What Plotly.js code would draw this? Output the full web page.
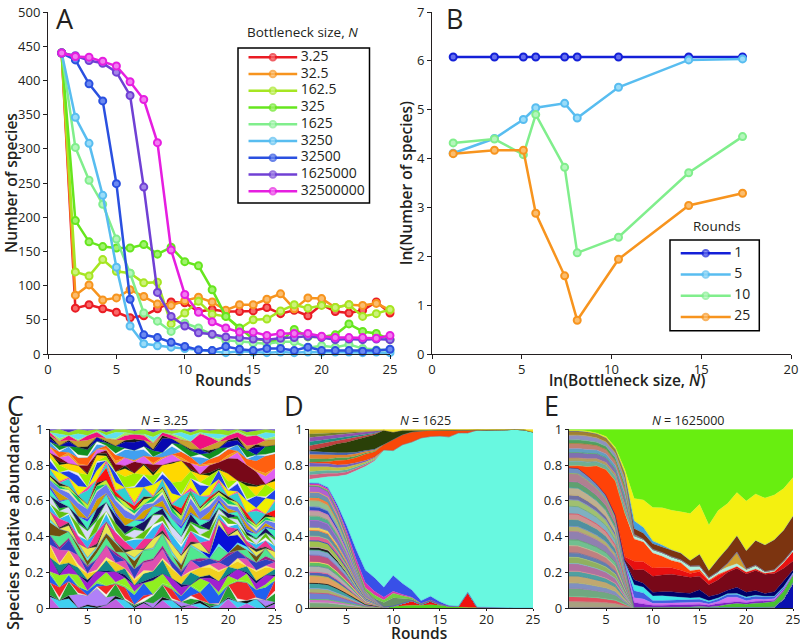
<!DOCTYPE html>
<html><head><meta charset="utf-8">
<script src="https://cdn.plot.ly/plotly-3.0.1.min.js"></script>
<style>html,body{margin:0;padding:0;background:#fff}</style></head>
<body><div id="chart" style="width:800px;height:643px"></div>
<script>
var rounds=[1,2,3,4,5,6,7,8,9,10,11,12,13,14,15,16,17,18,19,20,21,22,23,24,25];

// Panel A
var namesA=['3.25','32.5','162.5','325','1625','3250','32500','1625000','32500000'];
var colorsA=['#ea1c24','#f7941e','#a6e622','#66e61e','#80ee8c','#58bdf0','#2a50e0','#7040d4','#e61ee0'];
var fillsA=['#f86a6a','#fbbd6e','#ccf27a','#a0f26e','#b4f6bc','#9adcf8','#6c8af0','#a286e8','#f27cf0'];
var s3_25=[440,67,72,66,61,53,56,66,76,75,62,65,62,62,63,68,59,64,56,72,62,60,64,76,60];
var s32_5=[440,86,101,79,82,94,84,73,71,78,83,76,64,72,72,80,88,66,82,81,68,72,71,74,64];
var s162_5=[440,120,114,138,121,118,104,105,44,60,77,58,55,37,50,51,63,72,67,71,68,72,55,59,65];
var s325=[440,195,164,157,155,155,160,146,156,135,129,94,55,38,22,20,18,36,25,25,28,44,33,30,21];
var s1625=[440,302,254,219,168,118,60,48,33,45,38,28,20,18,16,15,18,18,9,12,10,14,8,6,5];
var s3250=[440,346,308,232,127,41,15,12,10,8,6,5,2,4,3,2,3,2,3,3,3,3,2,3,2];
var s32500=[440,430,395,370,249,80,28,24,17,11,6,5,11,7,5,8,8,5,10,5,5,5,4,5,7];
var s1625000=[440,436,429,425,412,378,244,90,55,41,31,29,25,24,22,21,23,24,26,24,21,22,21,22,21];
var s32500000=[440,435,434,428,421,398,372,309,152,87,61,47,38,32,32,27,30,30,30,26,24,24,24,23,27];
var seriesA=[s3_25,s32_5,s162_5,s325,s1625,s3250,s32500,s1625000,s32500000];

// Panel B
var lnN=[1.18,3.48,5.09,5.78,7.39,8.09,10.39,14.3,17.3];
var namesB=['1','5','10','25'];
var colorsB=['#1420d8','#58bdf0','#80ee8c','#f7941e'];
var fillsB=['#6670ee','#9adcf8','#b4f6bc','#fbbd6e'];
var round1=[6.08,6.08,6.08,6.08,6.08,6.08,6.08,6.08,6.08];
var round5=[4.11,4.41,4.80,5.04,5.13,4.83,5.46,6.02,6.04];
var round10=[4.32,4.40,4.08,4.90,3.82,2.07,2.39,3.71,4.45];
var round25=[4.10,4.17,4.17,2.88,1.60,0.69,1.94,3.04,3.29];
var seriesB=[round1,round5,round10,round25];

// Panel C: species relative abundance, bottom to top (normalised per round)
var layersC=[
[7,0,0,0,0,0,2,6,0,0,3,0,5,0,0,2,0,0,0,6,0,3,0,0,3],
[0,5,6,0,1,0,0,0,5,0,0,0,0,5,0,0,3,0,2,0,4,0,6,0,0],
[0,0,0,9,6,12,5,0,0,0,0,3,0,0,3,0,0,0,0,0,0,0,0,4,0],
[8,0,9,0,0,0,0,8,0,1,0,5,8,0,0,4,0,2,0,8,0,0,0,0,6],
[0,7,0,4,0,0,6,0,7,0,2,0,0,6,0,0,5,0,0,0,11,12,0,0,7],
[5,0,4,0,3,2,0,0,0,6,8,0,0,0,4,6,0,14,5,0,0,0,5,8,0],
[0,8,0,7,0,0,9,0,5,0,0,9,6,0,0,0,8,0,0,6,0,5,0,0,3],
[9,0,6,0,5,6,0,7,0,4,0,0,0,5,6,0,0,3,7,0,7,0,4,6,0],
[0,6,0,5,0,0,7,0,4,0,5,4,9,0,0,8,0,0,0,5,0,4,0,0,4],
[7,0,8,0,4,0,0,6,0,3,0,0,0,6,5,0,6,5,6,0,5,0,6,5,0],
[0,9,0,6,0,7,8,0,5,0,5,7,6,0,0,7,0,0,5,0,0,5,0,0,5],
[6,0,7,0,4,0,0,5,0,6,0,0,0,4,3,0,4,4,0,7,5,0,5,4,0],
[0,7,4,4,0,4,5,0,4,0,7,6,8,4,0,9,4,0,9,0,0,5,0,5,0],
[8,5,0,3,3,3,3,6,0,5,0,0,0,0,4,0,0,0,0,0,4,0,4,0,0],
[0,0,0,0,0,0,0,0,0,0,0,0,0,0,0,0,0,3,12,11,5,1,0,0,0],
[5,0,4,0,6,0,7,0,0,5,0,6,0,5,6,0,5,0,4,0,3,0,3,0,5],
[0,6,0,5,0,8,0,6,5,0,6,0,5,0,0,7,0,8,0,5,0,3,0,4,0],
[4,0,5,0,5,0,5,0,0,6,0,7,0,6,5,0,4,0,3,0,3,0,3,0,4],
[0,5,0,6,0,7,0,5,4,0,5,0,4,0,0,5,0,6,0,4,0,3,0,3,0],
[5,0,4,0,6,0,6,0,0,5,0,6,0,5,5,0,4,0,3,0,3,0,3,0,4],
[0,4,0,4,0,6,0,5,5,0,6,0,4,0,0,5,0,6,0,3,0,2,0,3,0],
[4,0,5,0,5,0,5,0,0,4,0,5,0,4,5,0,4,0,3,0,3,0,3,0,5],
[0,5,0,5,0,6,0,4,5,0,5,0,4,0,0,5,0,5,0,3,0,3,0,2,0],
[4,3,4,4,6,5,6,4,5,3,4,2,4,4,4,4,5,4,3,2,3,2,2,2,4],
[0,2,0,3,0,3,0,2,0,2,0,3,0,3,0,3,0,2,0,3,0,2,0,2,0],
[2,0,2,0,3,0,3,0,3,0,3,0,2,0,3,0,2,0,2,0,2,0,2,0,3],
[0,0,0,0,0,2,8,3,0,3,0,0,0,0,4,0,0,2,0,0,0,3,0,0,5],
[4,0,5,0,9,0,3,0,8,0,6,0,5,0,8,0,7,0,5,0,6,0,9,0,6],
[0,6,0,6,0,6,0,5,0,9,0,7,0,6,0,6,0,6,0,4,0,8,0,10,0],
[5,0,4,7,0,5,0,6,0,0,7,0,3,7,0,0,7,0,6,0,5,0,8,0,7],
[0,5,0,0,8,0,3,0,7,8,0,6,0,0,9,5,0,7,0,5,0,9,0,8,0],
[3,0,4,5,0,4,0,0,5,0,6,0,4,12,14,0,5,0,0,5,0,0,6,0,6],
[0,3,0,0,5,0,2,5,0,7,0,5,0,0,0,4,0,5,4,10,14,12,9,0,0],
[3,0,5,0,0,3,0,0,5,0,5,0,4,5,0,0,5,0,0,0,4,0,0,5,7],
[0,4,0,4,5,0,2,4,0,0,0,4,0,0,4,4,0,3,4,4,0,4,6,11,10],
[3,0,4,0,0,3,0,0,5,6,4,0,3,5,0,0,5,0,0,0,4,0,4,0,0],
[0,3,0,5,4,0,2,5,0,0,0,4,0,0,4,4,0,4,4,0,0,5,0,5,5],
[2,0,3,0,0,3,0,0,4,5,4,0,9,3,0,0,3,0,0,4,3,0,5,0,0],
[0,3,0,4,4,0,2,4,0,0,0,4,0,0,3,5,0,3,4,0,0,3,0,4,4],
[2,0,3,0,3,3,0,0,3,3,3,0,2,2,0,0,10,6,0,3,3,6,6,0,0],
[0,3,0,4,0,0,2,4,0,0,0,3,0,0,3,4,0,2,3,0,0,0,0,4,2],
[1,3,2,3,3,1,2,2,2,2,3,3,2,2,2,2,2,2,3,3,1,2,3,2,2]];
var colorsC=['#c060e0','#40d0f0','#b080f8','#28a030','#f02828','#2060f0','#90f020','#a020d0','#108888','#f0d020','#e050b0','#3040c0','#50e890','#705010',
'#0810d8','#e8e850','#f03090','#30b8f0','#60c010','#d8d8f8','#181060','#40f0c0','#d0a000','#6878f0','#10c860','#c8f030',
'#ff1010','#30d0d0','#f0f000','#2040e8','#a0f000','#ffd800','#780818','#e060f0','#ff6010','#40a0f0','#109020','#0808b0','#c8a030','#f01080','#60e0f0','#90e020'];
// thin wedges between the large wedges of panel C
var thinC=[
[1,0,2,0,1,1,0,2,0,1,1,0,2,0,1,0,2,1,0,1,0,2,0,1,1],
[0,2,0,1,0,1,2,0,1,0,2,1,0,1,0,2,0,0,1,0,2,0,1,0,2],
[2,0,1,1,0,2,0,1,1,2,0,0,1,2,0,1,1,0,2,0,1,1,0,2,0],
[0,1,1,0,2,0,1,0,2,0,1,2,0,0,2,0,1,2,0,1,0,1,2,0,1],
[1,1,0,2,0,1,2,0,0,1,2,0,1,1,0,1,0,2,1,0,2,0,1,1,0],
[0,2,1,0,1,0,0,2,1,0,1,1,2,0,1,0,2,0,1,2,0,1,0,2,1],
[2,0,0,1,2,1,0,1,0,2,0,1,0,2,0,1,1,0,2,0,1,2,0,0,1],
[0,1,2,0,0,2,1,0,2,0,1,0,2,0,1,2,0,1,0,1,1,0,2,1,0],
[1,0,1,2,0,0,2,1,0,1,0,2,1,0,2,0,1,1,0,2,0,1,0,2,0],
[0,2,0,1,1,2,0,0,1,2,0,1,0,1,0,1,2,0,1,0,2,0,1,0,2],
[2,1,0,0,2,0,1,2,0,0,2,0,1,0,2,1,0,1,2,0,0,2,0,1,1],
[0,0,2,1,0,1,0,1,2,1,0,1,2,0,0,2,0,2,0,1,1,0,2,0,1],
[1,2,0,1,0,2,0,0,1,0,2,0,1,2,1,0,1,0,1,2,0,1,0,2,0],
[0,1,1,0,2,0,2,1,0,2,0,1,0,1,0,2,0,1,2,0,1,0,2,0,1],
[2,0,1,2,0,1,0,1,0,1,1,0,2,0,1,0,2,0,0,1,2,1,0,1,0],
[0,2,0,0,1,1,2,0,2,0,1,2,0,1,0,1,0,2,1,0,0,2,1,0,2],
[1,0,2,1,0,0,1,2,0,1,0,1,1,0,2,0,1,1,0,2,1,0,1,2,0],
[0,1,0,2,1,2,0,1,1,0,2,0,0,2,1,0,2,0,1,1,0,1,0,1,1],
[2,0,1,0,2,0,1,0,1,2,0,1,2,0,0,1,0,2,0,1,2,0,2,0,0],
[0,2,0,1,0,1,0,1,2,0,1,1,0,1,2,0,1,0,2,0,1,1,0,1,2],
[1,0,2,0,1,0,2,0,0,1,0,2,0,1,0,2,0,1,0,1,0,2,1,0,1]];
var colorsThinC=['#101010','#f4f4f4','#80f040','#101060','#f8f070','#a02080','#60f0f0','#303030','#f8f8f8','#20b020','#4040f0','#f0f0a0','#202020','#ff40a0','#e8e8ff','#102810','#f0a020','#f8f8f8','#181818','#a0f060','#5030c0'];

// Panel D: bottom to top, thousandths
var greenBaseD=[0,0,0,0,0,0,0,3,5,8,15,15,15,18,15,8,5,3,2,3,3,0,0,0,0];
var redD=[0,0,0,0,0,0,0,0,0,2,10,25,5,20,5,2,5,85,3,0,0,0,0,0,0];
var thinLowD=[
[30,30,28,22,16,10,4,2],[18,18,18,14,10,6,3,1],[36,36,34,28,22,12,5,2],[24,24,23,18,14,9,3,2],
[30,29,28,24,18,11,4,2],[42,42,40,32,24,14,6,3],[20,20,20,16,12,8,3,1],[34,34,32,26,20,12,5,3],
[22,22,21,18,14,8,3,2],[40,40,38,30,24,14,6,3],[28,28,27,22,16,10,4,2],[16,16,16,13,10,6,2,1],
[36,36,35,28,22,13,5,3],[26,26,25,21,15,9,4,2],[32,32,31,26,20,12,5,2],[18,18,18,15,11,7,3,1],
[38,38,36,30,22,13,6,3],[24,24,23,19,14,9,3,2],[30,30,29,24,18,10,4,2],[22,22,22,18,13,8,3,2],
[34,34,32,27,20,12,5,3],[20,20,19,16,12,7,3,1],[28,28,27,22,17,10,4,2],[33,33,32,25,19,11,5,3]];
var colorsThinLowD=['#78a878','#d070c0','#7080d0','#a8b070','#40a0a0','#e0a060','#5060b8','#b0b0b0','#60c060','#c05080','#88a0d0','#202020','#a0c050','#e06090','#6090a0','#f0d060','#8070c0','#50b090','#c0a0a0','#3050c0','#90c090','#f08040','#7090b0','#b060d0'];
var oliveD=[0,0,0,0,0,0,0,0,25,45,27,9,2,7,3,0,0,0,0,0,0,0,0,0,0];
var limeD=[6,6,7,8,9,10,15,20,15,25,15,8,3,0,0,0,0,0,0,0,0,0,0,0,0];
var pinkD=[8,8,8,12,20,28,30,20,15,10,8,3,0,0,0,0,0,0,0,0,0,0,0,0,0];
var blueD=[5,5,8,15,30,50,70,75,55,85,60,40,15,20,12,3,0,0,0,0,0,0,0,0,0];
var cyanD=[20,30,60,155,285,440,580,650,765,675,765,820,905,890,925,940,960,890,990,990,990,995,1000,1000,985];
var stripeA=[[24,22,20,16,15,12,9,5],[20,18,16,14,13,10,7,5],[26,24,20,17,16,12,9,6],[22,20,18,15,14,11,8,5]];
var orangeD=[3,5,10,25,25,28,35,30,30,60,55,55,40,35,35,40,15,15,3,0,0,0,0,0,0];
var stripeB=[[20,18,16,14,13,10,7,4],[24,22,20,16,15,12,8,6],[18,16,14,12,12,9,6,4]];
var darkGreenD=[5,20,35,50,60,70,75,80,80,40,25,10,3,2,1,0,0,0,0,0,0,0,0,0,0];
var stripeC=[[26,24,22,18,16,12,9,6],[22,20,18,15,14,11,8,5],[24,22,20,16,15,12,8,6],[20,18,16,13,12,10,7,4],[23,20,18,14,12,10,7,5]];
var yellowD=[3,3,3,3,3,3,5,5,5,15,5,5,5,3,2,2,5,5,2,5,5,3,0,3,15];
var colorsStripeD=['#d06080','#60b0a0','#c0c040','#7060c0','#50a050','#e08030','#4060b0','#c04040','#209080','#9050b0','#708030','#d0b020'];

// Panel E: bottom to top, thousandths
var thinLowE=[
[36,36,34,32,29,24,11],[28,28,26,25,23,19,9],[44,44,42,38,35,29,13],[30,30,29,27,25,20,9],
[38,38,36,34,31,25,12],[26,26,25,23,21,18,8],[42,42,40,37,34,28,13],[34,34,32,30,28,23,11],
[24,24,23,22,20,16,8],[40,40,38,36,33,27,12],[32,32,31,29,27,22,10],[46,46,44,41,37,31,14],
[28,28,27,25,23,19,9],[38,38,36,34,31,25,12],[30,30,29,27,25,20,9],[42,42,40,37,34,28,13],
[36,36,34,32,29,24,11],[26,26,25,23,21,18,8],[40,40,38,36,33,27,12],[34,34,32,30,28,23,11],
[44,44,42,38,35,29,13],[32,31,27,24,22,15,7]];
var colorsThinLowE=['#a8a080','#e05060','#70a880','#8090c0','#c0a870','#50a0a0','#b070a0','#90b060','#6080b0','#c08080','#70c090','#9080b0','#b0b070','#5090a0','#d09090','#80b0c0','#a0c070','#7070a0','#c0b090','#60a070','#b08090','#7090c0'];
var bottomBlueE=[0,0,0,0,0,0,0,0,0,0,0,0,0,0,0,0,0,0,0,0,0,3,5,50,140];
var greenLowE=[0,0,0,0,0,0,0,3,3,3,3,5,5,5,8,5,10,20,25,20,25,25,30,40,40];
var purpleE=[0,0,0,0,0,0,10,25,18,12,12,12,12,12,12,10,15,10,10,10,10,10,8,8,5];
var lavenderE=[0,0,0,0,0,0,5,25,25,10,10,10,10,10,10,8,10,30,25,10,12,8,8,5,5];
var blueE=[0,0,0,0,0,0,3,35,30,15,15,15,15,15,15,10,15,15,15,15,15,15,10,8,0];
var cyanE=[0,0,0,0,0,0,2,32,30,25,25,22,15,12,10,7,5,5,5,5,5,3,3,3,3];
var navyE=[0,0,0,0,0,0,2,25,20,20,22,25,25,25,40,25,20,20,35,25,25,15,25,30,15];
var maroonE=[0,0,0,0,0,2,10,50,70,85,90,95,90,85,70,65,80,100,105,100,105,105,100,70,50];
var redE=[0,0,0,0,2,5,15,45,40,45,40,35,30,20,25,20,25,10,10,10,8,5,10,30,50];
var orangeE=[10,15,50,100,140,185,240,115,100,80,60,40,40,15,10,5,5,0,0,0,0,0,0,0,0];
var paleE=[0,0,0,0,0,0,0,15,15,20,20,20,15,25,20,15,15,20,15,12,15,10,10,10,12];
var goldE=[0,0,0,0,0,0,0,0,0,0,0,0,0,0,0,0,0,20,65,5,5,0,0,0,0];
var thinUpE=[[24,24,24,22,22,22,27,1],[18,18,18,17,17,17,20,1],[30,30,30,27,27,27,34,1],[22,22,22,20,20,20,25,1],[28,28,28,25,25,25,31,1],[20,20,20,18,18,18,22,1],[26,26,26,24,24,24,29,1],[22,22,22,22,22,23,28,1]];
var colorsThinUpE=['#70b090','#b0a060','#8070b0','#60a0c0','#c08070','#50a060','#9090c0','#a08030'];
var brownE=[0,0,0,0,0,0,0,30,30,30,30,35,35,30,60,40,70,85,90,100,130,145,165,165,185];
var skyE=[0,0,0,0,0,0,3,40,30,15,10,3,2,0,0,0,0,0,0,0,0,0,0,0,0];
var yellowE=[5,5,5,5,8,10,20,115,140,180,200,215,220,250,260,255,265,250,240,270,245,255,245,225,210];
var greenTopE=[5,5,10,20,40,100,220,355,360,420,420,440,440,450,390,535,445,415,350,390,340,375,360,320,265];

var W=800,H=643;
function dx(a,b){return [a/W,b/W];}
function dy(top,bot){return [1-bot/H,1-top/H];}
function pad(r){return r.concat(new Array(25-r.length).fill(0));}

var fontFam='"Open Sans", "Noto Sans", sans-serif';
var axisBase={showgrid:false,zeroline:false,showline:true,linecolor:'#231f20',linewidth:1,ticks:'outside',ticklen:4,tickwidth:1,tickcolor:'#231f20',tickfont:{family:fontFam,size:13,color:'#231f20'},fixedrange:true,ticklabeloverflow:'allow'};
function ax(o){return Object.assign({},axisBase,o);}
var titleFont={family:fontFam,size:15.5,color:'#231f20',weight:600};

var traces=[];
function addLine(x,y,name,c,f,xa,ya){
  traces.push({x:x,y:y,name:name,xaxis:xa,yaxis:ya,type:'scatter',mode:'lines+markers',cliponaxis:false,showlegend:false,
    line:{color:c,width:2.5},marker:{size:7,color:f,line:{color:c,width:2}}});
}
function addLegend(name,c,f,i,xa,ya,xs){
  traces.push({x:xs,y:[i,i,i],xaxis:xa,yaxis:ya,type:'scatter',mode:'lines+markers+text',showlegend:false,hoverinfo:'skip',cliponaxis:false,
    text:['','',' '+name],textposition:'middle right',textfont:{family:fontFam,size:14,color:'#231f20'},
    line:{color:c,width:2.5},marker:{size:[0,6.5,0],color:f,line:{color:c,width:[0,2,0]}}});
}
function addArea(v,c,xa,ya,g,lineColor,lineWidth){
  traces.push({x:rounds,y:v,xaxis:xa,yaxis:ya,type:'scatter',mode:'lines',stackgroup:g,groupnorm:'fraction',line:{width:lineWidth||0.3,color:lineColor||c},fillcolor:c,hoverinfo:'skip',showlegend:false});
}
seriesA.forEach(function(s,i){addLine(rounds,s,namesA[i],colorsA[i],fillsA[i],'x','y');});
seriesB.forEach(function(s,i){addLine(lnN,s,'Round '+namesB[i],colorsB[i],fillsB[i],'x2','y2');});
layersC.forEach(function(s,i){
  addArea(s,colorsC[i],'x3','y3','c');
  if(i%2===1){addArea(thinC[(i-1)/2],colorsThinC[(i-1)/2],'x3','y3','c');}
});

addArea(greenBaseD,'#50d020','x4','y4','d');
addArea(redD,'#f01010','x4','y4','d');
thinLowD.forEach(function(s,i){addArea(pad(s),colorsThinLowD[i],'x4','y4','d',colorsThinLowD[(i+7)%24],0.9);});
addArea(oliveD,'#689068','x4','y4','d');
addArea(limeD,'#70d040','x4','y4','d');
addArea(pinkD,'#e030b0','x4','y4','d');
addArea(blueD,'#3850e8','x4','y4','d');
addArea(cyanD,'#68f8e0','x4','y4','d');
stripeA.forEach(function(s,i){addArea(pad(s),colorsStripeD[i],'x4','y4','d');});
addArea(orangeD,'#f84808','x4','y4','d');
stripeB.forEach(function(s,i){addArea(pad(s),colorsStripeD[i+4],'x4','y4','d');});
addArea(darkGreenD,'#2a4008','x4','y4','d');
stripeC.forEach(function(s,i){addArea(pad(s),colorsStripeD[i+7],'x4','y4','d');});
addArea(yellowD,'#f0e020','x4','y4','d');

addArea(bottomBlueE,'#0a10b0','x5','y5','e');
thinLowE.forEach(function(s,i){addArea(pad(s),colorsThinLowE[i],'x5','y5','e',colorsThinLowE[(i+9)%22],0.9);});
addArea(greenLowE,'#48c030','x5','y5','e');
addArea(purpleE,'#8020c8','x5','y5','e');
addArea(lavenderE,'#d070f0','x5','y5','e');
addArea(blueE,'#4060e0','x5','y5','e');
addArea(cyanE,'#40e8e8','x5','y5','e');
addArea(navyE,'#000068','x5','y5','e');
addArea(maroonE,'#780818','x5','y5','e');
addArea(redE,'#e81010','x5','y5','e');
addArea(orangeE,'#ff4208','x5','y5','e');
addArea(paleE,'#b0f0e0','x5','y5','e');
addArea(goldE,'#d0a030','x5','y5','e');
thinUpE.forEach(function(s,i){addArea(pad(s),colorsThinUpE[i],'x5','y5','e',colorsThinUpE[(i+3)%8],0.7);});
addArea(brownE,'#7c3410','x5','y5','e');
addArea(skyE,'#40a0e0','x5','y5','e');
addArea(yellowE,'#f4f010','x5','y5','e');
addArea(greenTopE,'#68ee10','x5','y5','e');

namesA.forEach(function(n,i){addLegend(n,colorsA[i],fillsA[i],i,'x6','y6',[0.08,0.265,0.45]);});
namesB.forEach(function(n,i){addLegend(n,colorsB[i],fillsB[i],i,'x7','y7',[0.12,0.40,0.68]);});

var fracTicks=[0,0.2,0.4,0.6,0.8,1];
var fracText=['0','0.2','0.4','0.6','0.8','1'];
var roundTicks=[5,10,15,20,25];
var hidden={visible:false,fixedrange:true};

function pxNote(text,x,y,size,opts){
  return Object.assign({text:text,xref:'paper',yref:'paper',x:x/W,y:1-y/H,showarrow:false,xanchor:'center',yanchor:'middle',font:{family:fontFam,size:size,color:'#231f20'}},opts||{});
}
function boldNote(text,x,y,size,angle){
  return {text:text,xref:'paper',yref:'paper',x:x/W,y:1-y/H,showarrow:false,xanchor:'center',yanchor:'middle',textangle:angle||0,font:{family:fontFam,size:size,color:'#231f20',weight:600}};
}
var boxLine={color:'#000',width:1.5};
var layout={
  width:W,height:H,margin:{l:0,r:0,t:0,b:0},paper_bgcolor:'#fff',plot_bgcolor:'rgba(0,0,0,0)',showlegend:false,hovermode:false,
  xaxis:ax({anchor:'y',domain:dx(48,390),range:[0,25],tickvals:[0,5,10,15,20,25],ticklabelstandoff:-1}),
  yaxis:ax({anchor:'x',domain:dy(12,354),range:[0,500],dtick:50,title:{text:'Number of species',font:titleFont,standoff:6}}),
  xaxis2:ax({anchor:'y2',domain:dx(432,791),range:[0,20],tickvals:[0,5,10,15,20],ticklabelstandoff:-1}),
  yaxis2:ax({anchor:'x2',domain:dy(12,354),range:[0,7],dtick:1,title:{text:'ln(Number of species)',font:titleFont,standoff:0}}),
  xaxis3:ax({anchor:'y3',domain:dx(50,275),range:[1,25],tickvals:roundTicks,ticklen:2,ticklabelstandoff:-3}),
  yaxis3:ax({anchor:'x3',domain:dy(429.3,608),range:[0,1],tickvals:fracTicks,ticktext:fracText,ticklen:3}),
  xaxis4:ax({anchor:'y4',domain:dx(309.3,533),range:[1,25],tickvals:roundTicks,ticklen:2,ticklabelstandoff:-3}),
  yaxis4:ax({anchor:'x4',domain:dy(429.3,608),range:[0,1],tickvals:fracTicks,ticktext:fracText,ticklen:3}),
  xaxis5:ax({anchor:'y5',domain:dx(568.7,793),range:[1,25],tickvals:roundTicks,ticklen:2,ticklabelstandoff:-3}),
  yaxis5:ax({anchor:'x5',domain:dy(429.3,608),range:[0,1],tickvals:fracTicks,ticktext:fracText,ticklen:3}),
  xaxis6:Object.assign({anchor:'y6',domain:dx(238,369.5),range:[0,1]},hidden),
  yaxis6:Object.assign({anchor:'x6',domain:dy(48,203),range:[8.7,-0.555]},hidden),
  xaxis7:Object.assign({anchor:'y7',domain:dx(670,759.3),range:[0,1]},hidden),
  yaxis7:Object.assign({anchor:'x7',domain:dy(240,330.7),range:[3.65,-0.62]},hidden),
  shapes:[
    {type:'rect',xref:'paper',yref:'paper',x0:238/W,x1:369.5/W,y0:1-203/H,y1:1-48/H,line:boxLine,layer:'below'},
    {type:'rect',xref:'paper',yref:'paper',x0:670/W,x1:759.3/W,y0:1-330.7/H,y1:1-240/H,line:boxLine,layer:'below'}
  ],
  annotations:[
    pxNote('A',65,18,27),pxNote('B',454,18,27),pxNote('C',15,405,27),pxNote('D',294,405,27),pxNote('E',551,405,27),
    pxNote('Bottleneck size, <i>N</i>',302,32,13.5),
    pxNote('Rounds',717,225.7,13.5),
    pxNote('<i>N</i> = 3.25',164,420,12.5),
    pxNote('<i>N</i> = 1625',425,420,12.5),
    pxNote('<i>N</i> = 1625000',688,420,12.5),
    boldNote('Rounds',223,380,15.5),
    boldNote('ln(Bottleneck size, <i>N</i>)',627,380,15.5),
    boldNote('Rounds',419,633,15.5),
    boldNote('Species relative abundance',13,523,16.3,-90)
  ]
};
Plotly.newPlot('chart',traces,layout,{displayModeBar:false,staticPlot:true});
</script></body></html>
